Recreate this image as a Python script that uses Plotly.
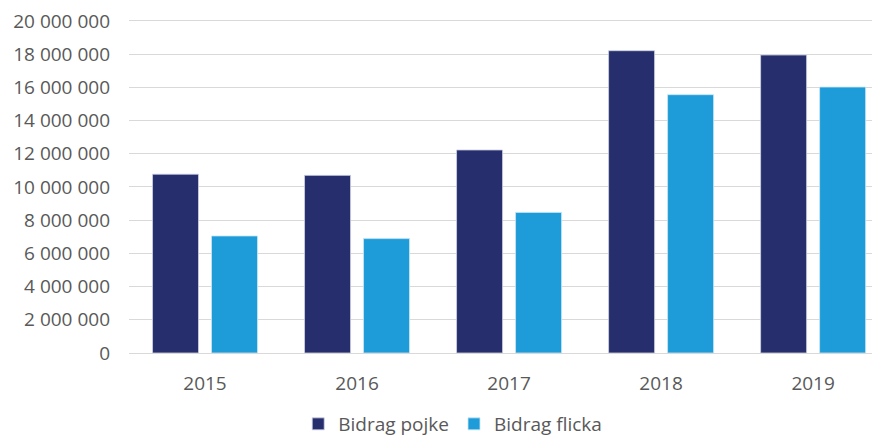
import plotly.graph_objects as go

years = ["2015", "2016", "2017", "2018", "2019"]
bidrag_pojke = [10770000, 10700000, 12230000, 18210000, 17950000]
bidrag_flicka = [7050000, 6890000, 8470000, 15560000, 16020000]
y_ticks = [0, 2000000, 4000000, 6000000, 8000000, 10000000, 12000000,
           14000000, 16000000, 18000000, 20000000]

FONT = "Open Sans, Lato, sans-serif"
GREY = "#595959"

fig = go.Figure()
fig.add_trace(go.Bar(name="Bidrag pojke", x=years, y=bidrag_pojke,
                     marker=dict(color="#262E6E", line=dict(color="#D0D3E2", width=0.8))))
fig.add_trace(go.Bar(name="Bidrag flicka", x=years, y=bidrag_flicka,
                     marker=dict(color="#1D9CD9", line=dict(color="#C9E6F5", width=0.8))))

# page body has an 8px margin, so the figure is 8px smaller and offsets reduced
fig.update_layout(
    width=872, height=428,
    margin=dict(l=121, r=0, t=5, b=83, autoexpand=False),
    paper_bgcolor="white", plot_bgcolor="white",
    barmode="group", bargap=0.224, bargroupgap=0.22,
    separators=", ",
    font=dict(family=FONT, size=19, color=GREY),
    showlegend=True,
    legend=dict(orientation="h", xref="container", yref="container",
                x=0.51, xanchor="center", y=0.028, yanchor="middle",
                font=dict(family=FONT, size=19, color=GREY),
                itemwidth=30, traceorder="normal"),
    xaxis=dict(range=[-0.5, 4.44], showgrid=False, showline=False,
               ticks="", ticklabelstandoff=17, automargin=False,
               tickfont=dict(family=FONT, size=19, color=GREY)),
    yaxis=dict(range=[0, 20480000], tickvals=y_ticks, tickformat=",d",
               showgrid=True, gridcolor="#D9D9D9", gridwidth=1,
               zeroline=True, zerolinecolor="#D9D9D9", zerolinewidth=1,
               showline=False, ticks="", ticklabelstandoff=18, automargin=False,
               ticklabeloverflow="allow",
               tickfont=dict(family=FONT, size=19, color=GREY)),
)

fig.write_html("out.html")
